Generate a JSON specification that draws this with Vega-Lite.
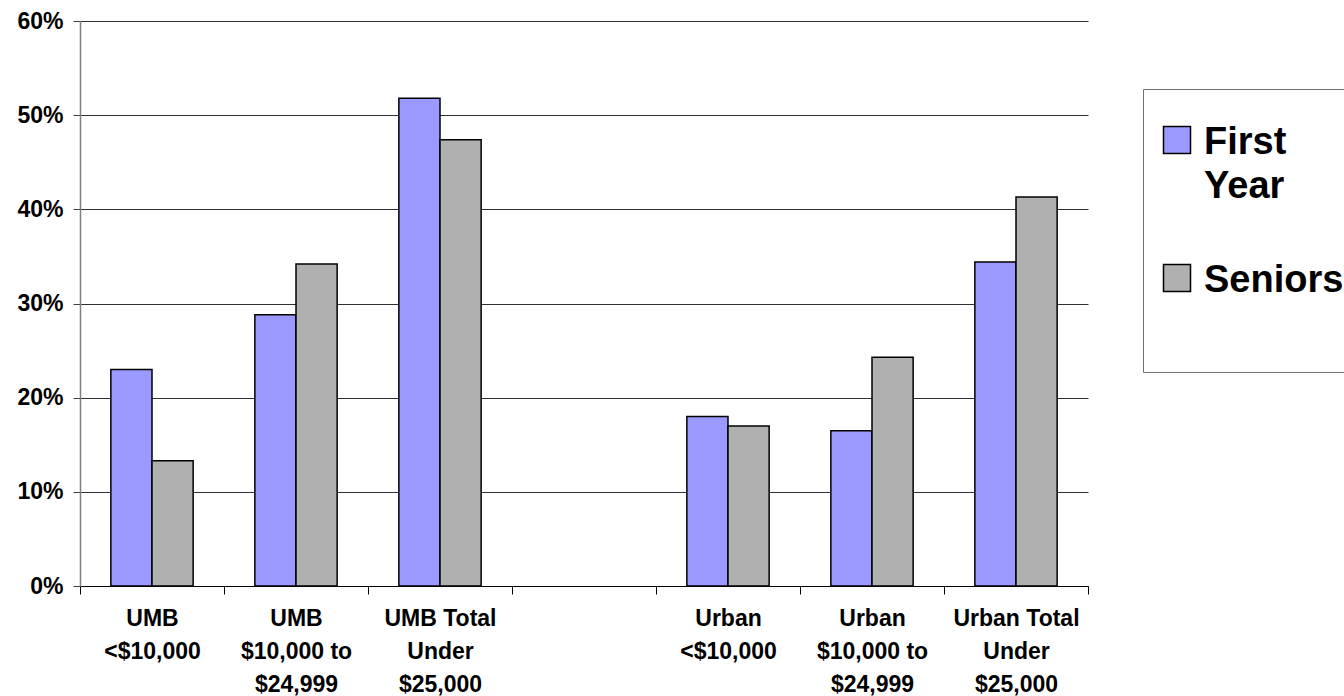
{
  "$schema": "https://vega.github.io/schema/vega-lite/v6.json",
  "width": 1008,
  "height": 565,
  "autosize": {"type": "none"},
  "padding": {"left": 80, "top": 21, "right": 256, "bottom": 110},
  "background": "white",
  "config": {
    "view": {"stroke": null},
    "font": "Liberation Sans"
  },
  "data": {
    "values": [
      {"category": "UMB\n<$10,000", "group": "First Year", "value": 0.230},
      {"category": "UMB\n<$10,000", "group": "Seniors", "value": 0.133},
      {"category": "UMB\n$10,000 to\n$24,999", "group": "First Year", "value": 0.288},
      {"category": "UMB\n$10,000 to\n$24,999", "group": "Seniors", "value": 0.342},
      {"category": "UMB Total\nUnder\n$25,000", "group": "First Year", "value": 0.518},
      {"category": "UMB Total\nUnder\n$25,000", "group": "Seniors", "value": 0.474},
      {"category": "Urban\n<$10,000", "group": "First Year", "value": 0.180},
      {"category": "Urban\n<$10,000", "group": "Seniors", "value": 0.170},
      {"category": "Urban\n$10,000 to\n$24,999", "group": "First Year", "value": 0.165},
      {"category": "Urban\n$10,000 to\n$24,999", "group": "Seniors", "value": 0.243},
      {"category": "Urban Total\nUnder\n$25,000", "group": "First Year", "value": 0.344},
      {"category": "Urban Total\nUnder\n$25,000", "group": "Seniors", "value": 0.413}
    ]
  },
  "mark": {"type": "bar", "stroke": "black", "strokeWidth": 1.5},
  "encoding": {
    "x": {
      "field": "category",
      "type": "nominal",
      "sort": null,
      "scale": {
        "domain": ["UMB\n<$10,000", "UMB\n$10,000 to\n$24,999", "UMB Total\nUnder\n$25,000", " ", "Urban\n<$10,000", "Urban\n$10,000 to\n$24,999", "Urban Total\nUnder\n$25,000"],
        "paddingInner": 0,
        "paddingOuter": 0
      },
      "axis": {
        "title": null,
        "labelAngle": 0,
        "labelExpr": "split(datum.label, '\\n')",
        "labelFont": "Liberation Sans",
        "labelFontSize": 23,
        "labelFontWeight": "bold",
        "labelColor": "black",
        "labelLineHeight": 33,
        "labelBaseline": "top",
        "labelPadding": 13,
        "tickBand": "extent",
        "tickSize": 8,
        "tickColor": "black",
        "domainColor": "black",
        "domainWidth": 1,
        "grid": false,
        "labelLimit": 200
      }
    },
    "xOffset": {
      "field": "group",
      "type": "nominal",
      "scale": {"paddingInner": 0, "paddingOuter": 0.75}
    },
    "y": {
      "field": "value",
      "type": "quantitative",
      "scale": {"domain": [0, 0.6], "nice": false},
      "axis": {
        "title": null,
        "format": ".0%",
        "values": [0, 0.1, 0.2, 0.3, 0.4, 0.5, 0.6],
        "labelFont": "Liberation Sans",
        "labelFontSize": 23,
        "labelFontWeight": "bold",
        "labelColor": "black",
        "labelPadding": 10,
        "tickSize": 7,
        "tickColor": "#404040",
        "domainColor": "#808080",
        "domainWidth": 1.5,
        "grid": true,
        "gridColor": "#303030",
        "gridWidth": 1,
        "gridOpacity": 1
      }
    },
    "color": {
      "field": "group",
      "type": "nominal",
      "scale": {"domain": ["First Year", "Seniors"], "range": ["#9999FF", "#B0B0B0"]},
      "legend": {
        "title": " ",
        "titleOrient": "top",
        "titleFontSize": 12,
        "titlePadding": 5,
        "orient": "none",
        "legendX": 1063,
        "legendY": 68,
        "padding": 15,
        "strokeColor": "#707070",
        "symbolType": "square",
        "symbolSize": 729,
        "symbolStrokeColor": "black",
        "symbolStrokeWidth": 1.5,
        "symbolOpacity": 1,
        "labelFont": "Liberation Sans",
        "labelFontSize": 38,
        "labelFontWeight": "bold",
        "labelColor": "black",
        "labelOffset": 8,
        "labelLimit": 400,
        "rowPadding": 53,
        "labelExpr": "datum.label == 'First Year' ? ['First', 'Year'] : [datum.label, '']",
        "labelBaseline": "top",
        "encode": {"labels": {"update": {"lineHeight": {"signal": "datum.value === 'Seniors' ? 57 : 44"}, "dy": {"value": -16}}}}
      }
    }
  }
}
